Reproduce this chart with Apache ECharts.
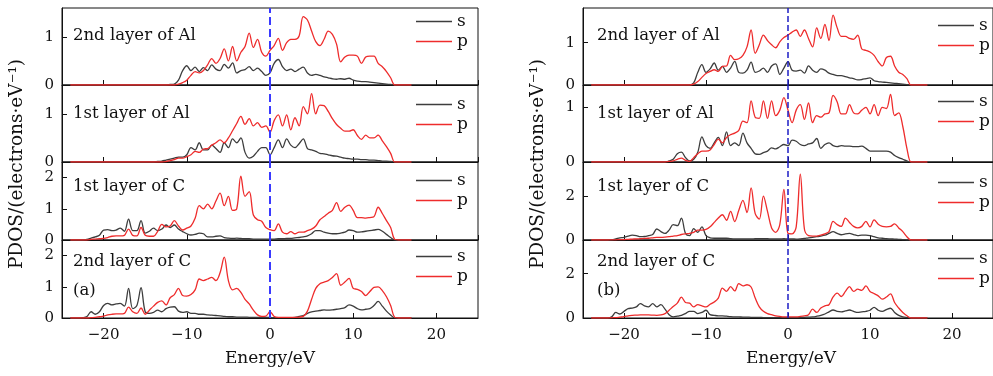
<!DOCTYPE html>
<html>
<head>
<meta charset="utf-8">
<script src="https://cdn.jsdelivr.net/npm/echarts@6/dist/echarts.min.js"></script>
<style>html,body{margin:0;padding:0;background:#fff}#c{width:993px;height:376px}</style>
</head>
<body>
<div id="c"></div>
<script>
// Energy grid (eV)
const energy = [
-24,-23.5,-23,-22.5,-22,-21.5,-21,-20.5,-20,-19.5,
-19,-18.5,-18,-17.5,-17,-16.5,-16,-15.5,-15,-14.5,
-14,-13.5,-13,-12.5,-12,-11.5,-11,-10.5,-10,-9.5,
-9,-8.5,-8,-7.5,-7,-6.5,-6,-5.5,-5,-4.5,
-4,-3.5,-3,-2.5,-2,-1.5,-1,-0.5,0,0.5,
1,1.5,2,2.5,3,3.5,4,4.5,5,5.5,
6,6.5,7,7.5,8,8.5,9,9.5,10,10.5,
11,11.5,12,12.5,13,13.5,14,14.5,15,15.5,
16,16.5,17];
const fermiEnergy = 0;

// Panel (a)
const a_Al2_s = [
0,0,0,0,0,0,0,0,0,0,
0,0,0,0,0,0,0,0,0,0,
0,0,0,0,0.01,0.02,0.1,0.3,0.4,0.3,
0.37,0.28,0.36,0.3,0.42,0.33,0.3,0.43,0.35,0.46,
0.25,0.3,0.32,0.38,0.3,0.35,0.28,0.2,0.25,0.45,
0.53,0.38,0.3,0.33,0.28,0.33,0.37,0.25,0.2,0.22,
0.2,0.17,0.15,0.13,0.12,0.13,0.12,0.14,0.1,0.08,
0.07,0.07,0.06,0.05,0.04,0.03,0.02,0.01,0,0,
0,0,0];
const a_Al2_p = [
0,0,0,0,0,0,0,0,0,0,
0,0,0,0,0,0,0,0,0,0,
0,0,0,0,0,0,0.02,0.05,0.1,0.2,
0.28,0.25,0.3,0.42,0.55,0.45,0.55,0.75,0.5,0.8,
0.5,0.68,0.8,1.08,0.78,0.95,0.68,0.6,0.72,0.82,
0.97,0.72,0.88,0.95,0.95,1.02,1.42,1.35,1.12,0.9,
0.82,0.95,1.12,1.05,0.85,0.48,0.58,0.62,0.62,0.6,
0.45,0.58,0.6,0.6,0.45,0.38,0.28,0.15,0,0,
0,0,0];
const a_Al1_s = [
0,0,0,0,0,0,0,0,0,0,
0,0,0,0,0,0,0,0,0,0,
0,0.01,0.02,0.04,0.06,0.08,0.1,0.1,0.15,0.3,
0.25,0.4,0.25,0.25,0.35,0.28,0.2,0.4,0.3,0.48,
0.4,0.5,0.2,0.08,0.12,0.22,0.3,0.3,0.15,0.3,
0.46,0.3,0.48,0.35,0.3,0.38,0.48,0.28,0.25,0.22,
0.18,0.17,0.15,0.13,0.12,0.1,0.08,0.07,0.06,0.06,
0.05,0.05,0.04,0.04,0.03,0.02,0.02,0.01,0,0,
0,0,0];
const a_Al1_p = [
0,0,0,0,0,0,0,0,0,0,
0,0,0,0,0,0,0,0,0,0,
0,0,0,0.01,0.03,0.05,0.08,0.08,0.11,0.15,
0.22,0.2,0.27,0.28,0.35,0.4,0.46,0.4,0.5,0.65,
0.8,0.95,0.78,0.9,0.75,0.82,0.72,0.75,0.62,0.86,
0.98,0.75,0.98,0.67,0.92,0.75,1.15,1.0,1.42,1.0,
1.18,1.17,1.05,0.9,0.78,0.7,0.64,0.64,0.67,0.55,
0.47,0.56,0.5,0.5,0.56,0.44,0.32,0.18,0,0,
0,0,0];
const a_C1_s = [
0,0,0,0,0.02,0.06,0.1,0.15,0.32,0.33,
0.3,0.32,0.38,0.28,0.67,0.3,0.3,0.62,0.22,0.28,
0.38,0.3,0.35,0.48,0.4,0.48,0.35,0.27,0.2,0.16,
0.18,0.22,0.2,0.1,0.1,0.12,0.13,0.08,0.06,0.05,
0.06,0.05,0.04,0.04,0.03,0.03,0.03,0.03,0.03,0.03,
0.04,0.04,0.05,0.05,0.07,0.08,0.1,0.13,0.2,0.3,
0.3,0.25,0.22,0.2,0.2,0.22,0.25,0.32,0.3,0.25,
0.26,0.28,0.3,0.32,0.34,0.28,0.18,0.08,0,0,
0,0,0];
const a_C1_p = [
0,0,0,0,0,0.02,0.03,0.04,0.05,0.08,
0.12,0.13,0.13,0.15,0.35,0.15,0.13,0.4,0.15,0.12,
0.12,0.28,0.5,0.42,0.45,0.62,0.45,0.32,0.38,0.45,
0.7,1.1,1.0,1.15,1.0,1.25,1.5,1.1,1.4,0.95,
1.0,2.05,1.4,1.55,0.8,0.65,0.6,0.4,0.33,0.3,
0.52,0.25,0.2,0.27,0.2,0.25,0.25,0.3,0.35,0.45,
0.65,0.75,0.86,0.95,1.2,0.92,1.05,1.12,0.95,0.72,
0.72,0.7,0.72,0.75,1.05,0.85,0.62,0.4,0.02,0,
0,0,0];
const a_C2_s = [
0,0,0,0.01,0.05,0.2,0.12,0.2,0.4,0.47,
0.42,0.45,0.47,0.38,0.95,0.3,0.4,0.97,0.2,0.15,
0.18,0.25,0.2,0.3,0.35,0.36,0.22,0.18,0.2,0.15,
0.15,0.12,0.12,0.1,0.09,0.08,0.07,0.05,0.04,0.04,
0.03,0.03,0.03,0.02,0.02,0.02,0.02,0.02,0.02,0.01,
0.01,0.01,0.01,0.01,0.02,0.05,0.08,0.15,0.2,0.22,
0.24,0.26,0.25,0.26,0.28,0.3,0.33,0.42,0.38,0.3,
0.26,0.28,0.3,0.4,0.53,0.38,0.22,0.1,0,0,
0,0,0];
const a_C2_p = [
0,0,0,0,0,0.01,0.02,0.04,0.06,0.1,
0.12,0.13,0.13,0.15,0.35,0.2,0.15,0.32,0.12,0.25,
0.38,0.5,0.55,0.42,0.65,0.75,0.95,0.72,0.7,0.75,
0.9,1.25,1.2,1.25,1.3,1.2,1.45,1.95,1.2,0.9,
0.95,0.82,0.6,0.45,0.25,0.1,0.05,0.06,0.2,0.05,
0.02,0.02,0.02,0.02,0.02,0.03,0.05,0.22,0.6,0.95,
1.1,1.15,1.2,1.3,1.42,1.05,1.15,1.27,0.95,0.92,
0.85,0.72,0.85,0.98,1.0,0.88,0.68,0.4,0.02,0,
0,0,0];

// Panel (b)
const b_Al2_s = [
0,0,0,0,0,0,0,0,0,0,
0,0,0,0,0,0,0,0,0,0,
0,0,0,0,0,0.05,0.3,0.48,0.3,0.38,
0.52,0.35,0.44,0.3,0.4,0.56,0.3,0.28,0.35,0.54,
0.3,0.33,0.4,0.3,0.45,0.5,0.25,0.4,0.55,0.35,
0.33,0.35,0.28,0.45,0.35,0.3,0.38,0.35,0.28,0.25,
0.22,0.22,0.2,0.17,0.15,0.12,0.13,0.15,0.17,0.1,
0.08,0.07,0.06,0.05,0.04,0.03,0.02,0.01,0,0,
0,0,0];
const b_Al2_p = [
0,0,0,0,0,0,0,0,0,0,
0,0,0,0,0,0,0,0,0,0,
0,0,0,0,0,0.02,0.08,0.18,0.27,0.32,
0.36,0.32,0.44,0.45,0.7,0.6,0.62,0.7,0.9,1.3,
0.75,0.95,1.18,1.05,0.95,0.88,1.02,1.12,1.18,1.25,
1.3,1.15,1.3,1.1,0.9,1.35,1.1,1.43,1.05,1.65,
1.35,1.15,1.15,1.1,1.08,1.18,0.85,0.82,0.78,0.7,
0.55,0.45,0.65,0.68,0.45,0.3,0.25,0.15,0,0,
0,0,0];
const b_Al1_s = [
0,0,0,0,0,0,0,0,0,0,
0,0,0,0,0,0,0,0,0,0.02,
0.05,0.15,0.18,0.08,0.02,0.05,0.18,0.46,0.3,0.25,
0.35,0.45,0.3,0.55,0.3,0.35,0.3,0.53,0.35,0.25,
0.15,0.14,0.17,0.2,0.26,0.24,0.28,0.32,0.3,0.4,
0.38,0.32,0.3,0.33,0.35,0.43,0.25,0.32,0.35,0.3,
0.28,0.3,0.29,0.29,0.28,0.28,0.29,0.25,0.2,0.2,
0.2,0.2,0.2,0.18,0.12,0.08,0.05,0.02,0,0,
0,0,0];
const b_Al1_p = [
0,0,0,0,0,0,0,0,0,0,
0,0,0,0,0,0,0,0,0,0.01,
0.02,0.05,0.07,0.03,0.01,0.08,0.15,0.2,0.2,0.22,
0.32,0.42,0.35,0.45,0.5,0.53,0.58,0.75,0.72,1.12,
0.82,0.8,1.12,0.8,1.12,0.85,0.95,1.18,0.95,0.72,
0.95,1.05,0.78,1.08,0.72,0.85,0.82,0.88,0.9,1.22,
1.1,0.88,0.88,1.05,0.9,0.88,0.95,1.0,0.88,1.05,
0.85,1.0,0.98,1.24,0.85,0.9,0.65,0.25,0,0,
0,0,0];
const b_C1_s = [
0,0,0,0,0,0.01,0.05,0.1,0.12,0.18,
0.22,0.2,0.15,0.16,0.2,0.25,0.5,0.38,0.3,0.45,
0.7,0.65,1.0,0.3,0.2,0.52,0.35,0.6,0.2,0.1,
0.08,0.08,0.08,0.08,0.06,0.05,0.05,0.05,0.05,0.05,
0.06,0.06,0.06,0.06,0.05,0.05,0.05,0.06,0.05,0.05,
0.04,0.05,0.07,0.1,0.12,0.15,0.18,0.22,0.3,0.38,
0.3,0.24,0.28,0.3,0.25,0.2,0.22,0.22,0.2,0.15,
0.1,0.08,0.06,0.05,0.04,0.03,0.02,0.01,0,0,
0,0,0];
const b_C1_p = [
0,0,0,0,0,0.01,0.01,0.02,0.02,0.03,
0.04,0.05,0.06,0.07,0.08,0.1,0.12,0.12,0.13,0.15,
0.18,0.2,0.25,0.28,0.3,0.35,0.45,0.45,0.48,0.6,
0.8,1.0,1.15,0.9,1.3,0.84,1.35,1.8,1.25,2.37,
1.2,0.95,2.0,1.3,0.55,0.35,0.7,2.3,0.3,0.28,
0.6,3.0,0.5,0.2,0.18,0.18,0.22,0.28,0.38,0.85,
0.7,0.62,1.0,0.8,0.62,0.55,0.62,0.85,0.6,0.92,
0.72,0.62,0.6,0.62,0.73,0.55,0.38,0.15,0,0,
0,0,0];
const b_C2_s = [
0,0,0,0,0,0.05,0.25,0.18,0.3,0.42,
0.45,0.5,0.65,0.55,0.5,0.65,0.5,0.6,0.4,0.15,
0.05,0.08,0.12,0.2,0.3,0.3,0.2,0.25,0.35,0.15,
0.12,0.1,0.1,0.08,0.06,0.05,0.05,0.04,0.04,0.03,
0.03,0.03,0.02,0.02,0.02,0.02,0.02,0.02,0.02,0.02,
0.02,0.02,0.03,0.04,0.05,0.08,0.12,0.18,0.28,0.36,
0.3,0.28,0.32,0.36,0.3,0.25,0.28,0.3,0.35,0.48,
0.35,0.3,0.38,0.44,0.25,0.12,0.05,0.02,0,0,
0,0,0];
const b_C2_p = [
0,0,0,0,0,0.01,0.02,0.04,0.06,0.1,
0.12,0.13,0.14,0.14,0.14,0.13,0.12,0.14,0.2,0.35,
0.52,0.67,0.94,0.7,0.67,0.5,0.6,0.55,0.5,0.62,
0.72,0.9,1.35,1.2,1.42,1.22,1.55,1.45,1.5,1.4,
0.9,0.5,0.3,0.2,0.15,0.1,0.07,0.05,0.05,0.05,
0.05,0.07,0.1,0.15,0.4,0.25,0.45,0.55,0.6,0.95,
1.12,0.97,1.2,1.42,1.2,1.3,1.25,1.45,1.2,1.1,
1.0,0.85,0.95,1.09,0.7,0.45,0.25,0.1,0,0,
0,0,0];

const layerNames = ['2nd layer of Al', '1st layer of Al', '1st layer of C', '2nd layer of C'];
const panelTags = ['(a)', '(b)'];
const seriesNames = ['s', 'p'];
const yMaxA = [1.6, 1.6, 2.5, 2.5];
const yMaxB = [1.82, 1.41, 3.55, 3.52];
const yStepA = [1, 1, 1, 1];
const yStepB = [1, 1, 2, 2];
const xTitle = 'Energy/eV';
const yTitle = 'PDOS/(electrons·eV⁻¹)';

const sData = [[a_Al2_s, a_Al1_s, a_C1_s, a_C2_s], [b_Al2_s, b_Al1_s, b_C1_s, b_C2_s]];
const pData = [[a_Al2_p, a_Al1_p, a_C1_p, a_C2_p], [b_Al2_p, b_Al1_p, b_C1_p, b_C2_p]];
sData.flat().concat(pData.flat()).forEach((a, i) => { if (a.length !== energy.length) throw new Error('len ' + i + ' ' + a.length); });

const FONT = 'DejaVu Serif';
const gridLeft = [62, 583];
const gridTops = [8, 85, 162, 240];
const gridHeights = [77, 77, 78, 78];
const yMaxs = [yMaxA, yMaxB];
const ySteps = [yStepA, yStepB];
const dashColor = ['#3a3aff', '#1c1cc4'];
const dashWidth = [2, 1.5];
const legendLeft = [416, 938];
const legendTops = [[13, 96, 172, 248], [17, 93, 174, 250]];
const labelX = [73, 597];
const labelY = [37, 115, 188, 263];
const sColor = '#3d3d3d';
const pColor = '#ee2c2c';

const grid = [], xAxis = [], yAxis = [], series = [], legend = [], graphic = [];
const minus = v => (v < 0 ? '\u2212' + Math.abs(v) : String(v));
const pairs = arr => energy.map((e, i) => [e, arr[i]]);

for (let p = 0; p < 2; p++) {
  for (let k = 0; k < 4; k++) {
    const g = p * 4 + k;
    grid.push({ left: gridLeft[p], width: 416, top: gridTops[k], height: gridHeights[k],
      show: true, borderColor: '#111', borderWidth: 1, containLabel: false });
    xAxis.push({ type: 'value', gridIndex: g, min: -25, max: 25, splitNumber: 5,
      axisLine: { onZero: false, lineStyle: { color: '#111', width: 1 } },
      axisTick: { inside: true, length: 5, lineStyle: { color: '#111' } },
      splitLine: { show: false },
      axisLabel: { show: k === 3, showMinLabel: false, showMaxLabel: false, formatter: minus,
        fontFamily: FONT, fontSize: 15, color: '#111', margin: 10 } });
    yAxis.push({ type: 'value', gridIndex: g, min: 0, max: yMaxs[p][k], interval: ySteps[p][k],
      axisLine: { show: true, onZero: false, lineStyle: { color: '#111', width: 1 } },
      axisTick: { inside: true, length: 5, lineStyle: { color: '#111' } },
      splitLine: { show: false },
      axisLabel: { showMaxLabel: false, fontFamily: FONT, fontSize: 15, color: '#111', margin: 8 } });
    series.push({ name: seriesNames[0], type: 'line', xAxisIndex: g, yAxisIndex: g,
      data: pairs(sData[p][k]), symbol: 'none', smooth: 0.35, animation: false,
      lineStyle: { color: sColor, width: 1.3 }, itemStyle: { color: sColor } });
    series.push({ name: seriesNames[1], type: 'line', xAxisIndex: g, yAxisIndex: g,
      data: pairs(pData[p][k]), symbol: 'none', smooth: 0.35, animation: false,
      lineStyle: { color: pColor, width: 1.3 }, itemStyle: { color: pColor } });
    // Fermi level (dashed vertical line)
    series.push({ name: 'EF', type: 'line', xAxisIndex: g, yAxisIndex: g, silent: true,
      data: [[fermiEnergy, 0], [fermiEnergy, yMaxs[p][k]]], symbol: 'none', animation: false,
      z: 5,
      lineStyle: { color: dashColor[p], width: dashWidth[p], type: 'dashed', dashOffset: 0 } });
    legend.push({
      data: [
        { name: seriesNames[0], icon: 'rect', itemStyle: { color: sColor } },
        { name: seriesNames[1], icon: 'rect', itemStyle: { color: pColor } }
      ],
      orient: 'vertical', left: legendLeft[p], top: legendTops[p][k],
      itemWidth: 36, itemHeight: 1.4, itemGap: 3, padding: 0, selectedMode: false,
      textStyle: { fontFamily: FONT, fontSize: 17, lineHeight: 16, color: '#111' } });
    graphic.push({ type: 'text', left: labelX[p], top: labelY[k] - 10,
      style: { text: layerNames[k], font: '16.5px "DejaVu Serif"', fill: '#111' } });
  }
  graphic.push({ type: 'text', left: labelX[p], top: 282,
    style: { text: panelTags[p], font: '16.5px "DejaVu Serif"', fill: '#111' } });
  graphic.push({ type: 'text', x: gridLeft[p] + 208, y: 359,
    style: { text: xTitle, font: '17px "DejaVu Serif"', fill: '#111', textAlign: 'center', textVerticalAlign: 'middle' } });
  graphic.push({ type: 'text', x: gridLeft[p] - 45, y: 164, rotation: Math.PI / 2,
    style: { text: yTitle, font: '18.5px "DejaVu Serif"', fill: '#111', textAlign: 'center', textVerticalAlign: 'middle' } });
}

const chart = echarts.init(document.getElementById('c'), null, { renderer: 'canvas' });
chart.setOption({ animation: false, grid, xAxis, yAxis, series, legend, graphic });
</script>
</body>
</html>
